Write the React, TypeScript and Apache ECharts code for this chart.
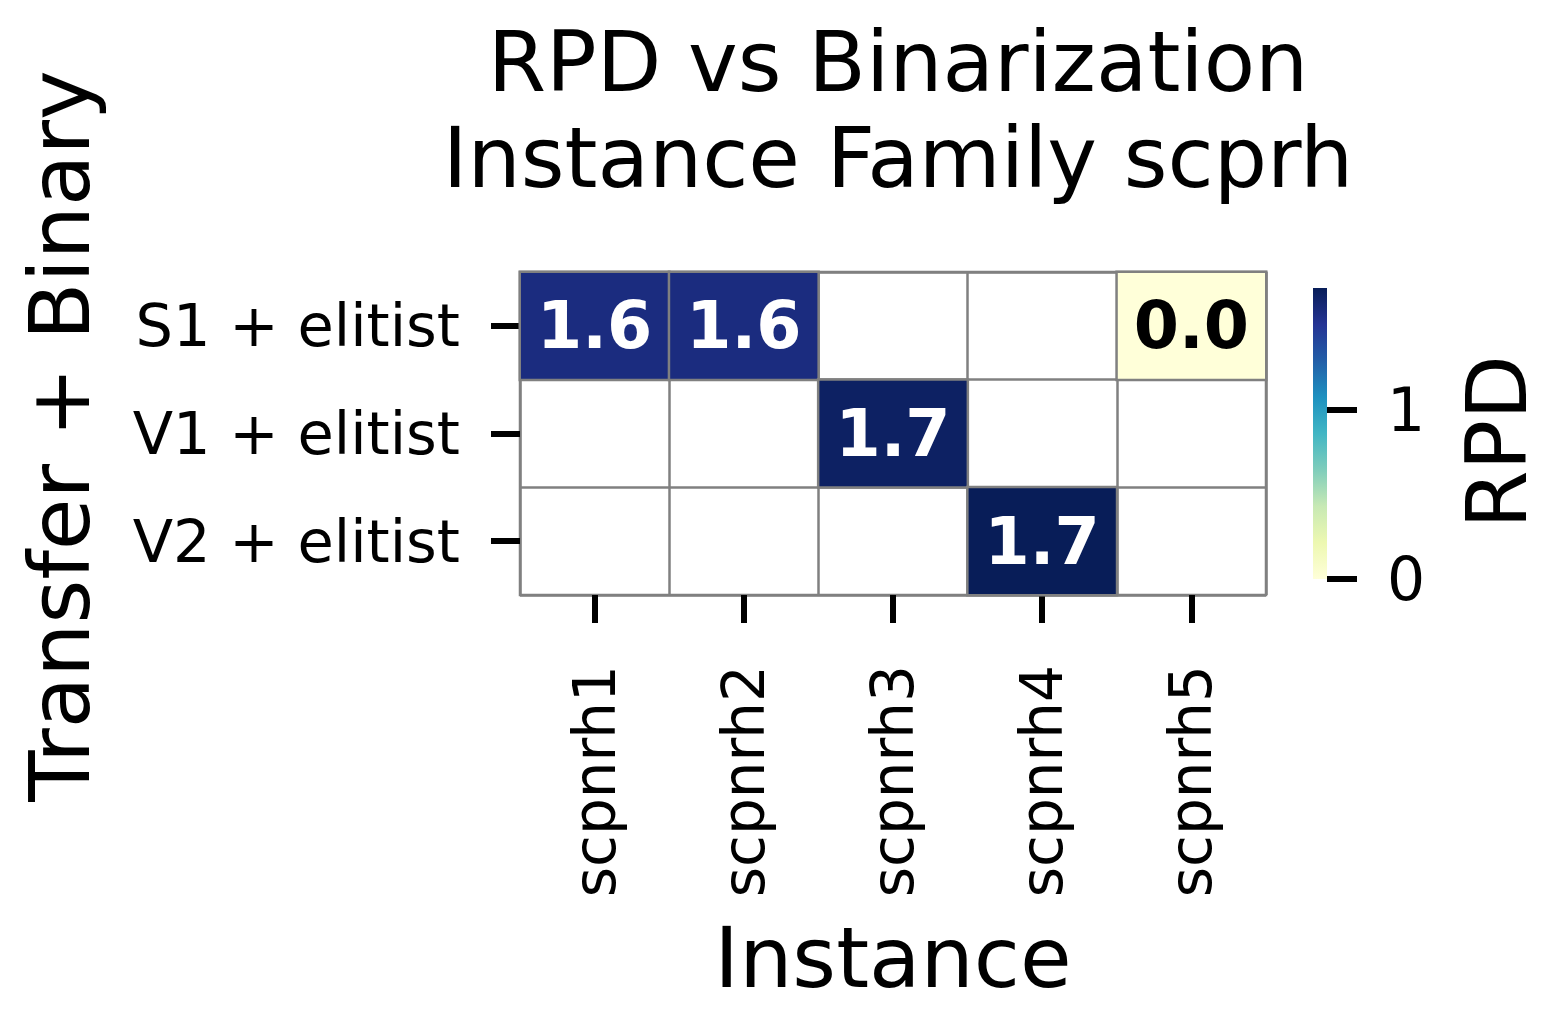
import React, { useEffect, useRef } from "react";
import * as echarts from "echarts";

const instances = ["scpnrh1", "scpnrh2", "scpnrh3", "scpnrh4", "scpnrh5"];
const methods = ["S1 + elitist", "V1 + elitist", "V2 + elitist"];
// [instance index, method index, RPD]
const cells: [number, number, number][] = [
  [0, 0, 1.58],
  [1, 0, 1.58],
  [4, 0, 0.0],
  [2, 1, 1.68],
  [3, 2, 1.72],
];
const colorTicks = [0, 1];
const vMin = 0;
const vMax = 1.72;
const ylgnbu = [
  "#ffffd9", "#edf8b1", "#c7e9b4", "#7fcdbb", "#41b6c4",
  "#1d91c0", "#225ea8", "#253494", "#081d58",
];
const titleText = "RPD vs Binarization\nInstance Family scprh";
const xTitle = "Instance";
const yTitle = "Transfer + Binary";
const cbTitle = "RPD";

const FONT = "DejaVu Sans";

export default function App() {
  const ref = useRef<HTMLDivElement>(null);
  useEffect(() => {
    if (!ref.current) return;
    const chart = echarts.init(ref.current, null, { renderer: "svg" });
    const gradient = new echarts.graphic.LinearGradient(
      0, 1, 0, 0,
      ylgnbu.map((c, i) => ({ offset: i / (ylgnbu.length - 1), color: c }))
    );
    chart.setOption({
      animation: false,
      backgroundColor: "#ffffff",
      textStyle: { fontFamily: FONT },
      title: {
        text: titleText,
        left: 893,
        top: 9,
        textAlign: "center",
        textStyle: { fontFamily: FONT, fontSize: 84, fontWeight: "normal", color: "#000", lineHeight: 96 },
      },
      grid: [
        {
          left: 520, top: 272, width: 746, height: 323,
          show: true, borderColor: "#808080", borderWidth: 2.5, backgroundColor: "#fff",
        },
        { left: 1313, top: 288, width: 14, height: 291 },
      ],
      xAxis: [
        {
          type: "category", gridIndex: 0, data: instances,
          axisLine: { show: false },
          axisTick: { show: true, alignWithLabel: true, length: 28, lineStyle: { color: "#000", width: 6 } },
          axisLabel: { rotate: 90, margin: 70, fontSize: 58, color: "#000", fontFamily: FONT },
          splitLine: { show: true, lineStyle: { color: "#808080", width: 2.5 } },
        },
        {
          type: "category", gridIndex: 1, data: [cbTitle], show: false,
        },
      ],
      yAxis: [
        {
          type: "category", gridIndex: 0, data: methods, inverse: true,
          axisLine: { show: false },
          axisTick: { show: true, alignWithLabel: true, length: 29, lineStyle: { color: "#000", width: 6 } },
          axisLabel: { margin: 60, fontSize: 59, color: "#000", fontFamily: FONT },
          splitLine: { show: true, lineStyle: { color: "#808080", width: 2.5 } },
        },
        {
          type: "value", gridIndex: 1, min: vMin, max: vMax, position: "right",
          axisLine: { show: false },
          splitLine: { show: false },
          axisTick: { show: true, customValues: colorTicks, length: 30, lineStyle: { color: "#000", width: 6 } },
          axisLabel: { customValues: colorTicks, margin: 60, fontSize: 60, color: "#000", fontFamily: FONT },
        },
      ],
      visualMap: {
        show: false, type: "continuous", min: vMin, max: vMax, dimension: 2,
        seriesIndex: 0, inRange: { color: ylgnbu },
      },
      series: [
        {
          type: "heatmap", xAxisIndex: 0, yAxisIndex: 0,
          data: cells.map(([x, y, v]) => ({
            value: [x, y, v],
            label: { color: v < (vMin + vMax) / 2 ? "#000" : "#fff" },
          })),
          itemStyle: { borderColor: "#808080", borderWidth: 2.5 },
          label: {
            show: true, fontSize: 65, fontWeight: "bold", fontFamily: FONT,
            formatter: (p: any) => p.value[2].toFixed(1),
          },
        },
        {
          type: "bar", xAxisIndex: 1, yAxisIndex: 1, barWidth: "100%",
          data: [vMax], itemStyle: { color: gradient }, silent: true,
        },
      ],
      graphic: [
        {
          type: "text", x: 60, y: 436, rotation: Math.PI / 2,
          style: { text: yTitle, fontSize: 84, fontFamily: FONT, fill: "#000", align: "center", verticalAlign: "middle" },
        },
        {
          type: "text", x: 893, y: 958,
          style: { text: xTitle, fontSize: 84, fontFamily: FONT, fill: "#000", align: "center", verticalAlign: "middle" },
        },
        {
          type: "text", x: 1497, y: 442, rotation: Math.PI / 2,
          style: { text: cbTitle, fontSize: 84, fontFamily: FONT, fill: "#000", align: "center", verticalAlign: "middle" },
        },
      ],
    });
    return () => chart.dispose();
  }, []);
  return (
    <div
      ref={ref}
      style={{ position: "fixed", left: 0, top: 0, width: 1553, height: 1020, background: "#fff" }}
    />
  );
}
